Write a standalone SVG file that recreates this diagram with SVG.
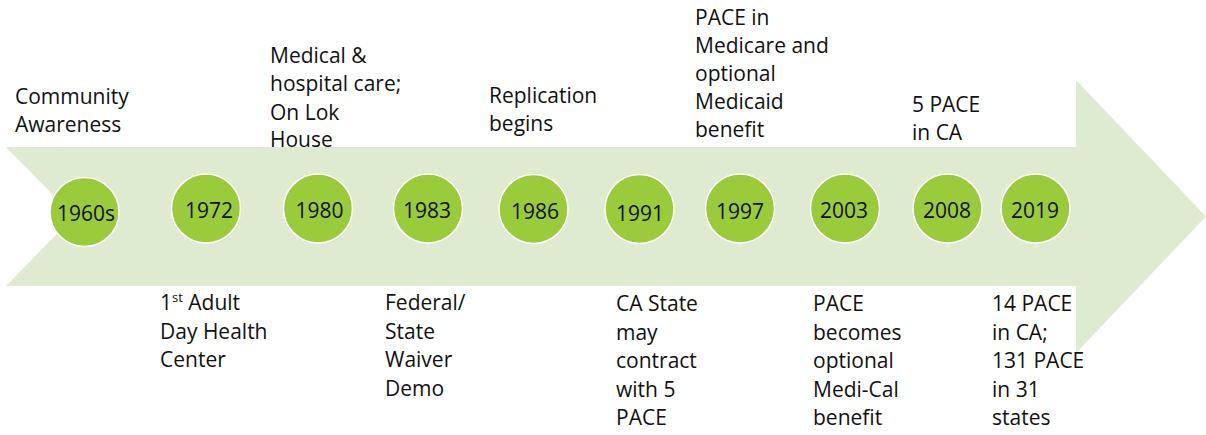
<svg xmlns="http://www.w3.org/2000/svg" width="1206" height="435" viewBox="0 0 1206 435">
  <style>
    .lbl { font-family: "Open Sans", "Liberation Sans", sans-serif; font-size: 21px; fill: #111111; }
    .yr { font-family: "Open Sans", "Liberation Sans", sans-serif; font-size: 21px; fill: #111111; text-anchor: middle; }
    .dot { fill: #9ACB3A; stroke: #ffffff; stroke-width: 1.5; }
    .sup { font-size: 13px; }
  </style>
  <rect width="1206" height="435" fill="#ffffff"/>
  <g id="connectors">
    <polygon id="timeline-arrow" points="6,147 1076,147 1076,80 1206,216.5 1076,353 1076,286 6,286 74,216.5" fill="#DFEBD1"/>
  </g>
  <g id="node-1960s">
    <circle class="dot" cx="84.5" cy="212" r="34.5"/>
    <text class="yr" x="86" y="220.5">1960s</text>
    <text class="lbl" x="15" y="104">Community</text>
    <text class="lbl" x="15" y="132">Awareness</text>
  </g>
  <g id="node-1972">
    <circle class="dot" cx="206" cy="208.5" r="34.5"/>
    <text class="yr" x="209" y="218">1972</text>
    <text class="lbl" x="160" y="310">1<tspan class="sup" dy="-8">st</tspan><tspan dy="8"> Adult</tspan></text>
    <text class="lbl" x="160" y="338.5">Day Health</text>
    <text class="lbl" x="160" y="367">Center</text>
  </g>
  <g id="node-1980">
    <circle class="dot" cx="318" cy="208.5" r="34.5"/>
    <text class="yr" x="319.5" y="218">1980</text>
    <text class="lbl" x="270" y="62.5">Medical &amp;</text>
    <text class="lbl" x="270" y="91">hospital care;</text>
    <text class="lbl" x="270" y="119.5">On Lok</text>
    <text class="lbl" x="270" y="147">House</text>
  </g>
  <g id="node-1983">
    <circle class="dot" cx="428" cy="208.5" r="34.5"/>
    <text class="yr" x="427" y="218">1983</text>
    <text class="lbl" x="385" y="310">Federal/</text>
    <text class="lbl" x="385" y="338.5">State</text>
    <text class="lbl" x="385" y="367">Waiver</text>
    <text class="lbl" x="385" y="395.5">Demo</text>
  </g>
  <g id="node-1986">
    <circle class="dot" cx="533.5" cy="209" r="34.5"/>
    <text class="yr" x="535" y="219">1986</text>
    <text class="lbl" x="489" y="103">Replication</text>
    <text class="lbl" x="489" y="131">begins</text>
  </g>
  <g id="node-1991">
    <circle class="dot" cx="639.5" cy="209" r="34.5"/>
    <text class="yr" x="640" y="220.5">1991</text>
    <text class="lbl" x="616" y="311">CA State</text>
    <text class="lbl" x="616" y="339.5">may</text>
    <text class="lbl" x="616" y="368">contract</text>
    <text class="lbl" x="616" y="396.5">with 5</text>
    <text class="lbl" x="616" y="425">PACE</text>
  </g>
  <g id="node-1997">
    <circle class="dot" cx="740" cy="208.5" r="34.5"/>
    <text class="yr" x="740" y="219">1997</text>
    <text class="lbl" x="695" y="25">PACE in</text>
    <text class="lbl" x="695" y="53">Medicare and</text>
    <text class="lbl" x="695" y="81">optional</text>
    <text class="lbl" x="695" y="109">Medicaid</text>
    <text class="lbl" x="695" y="137">benefit</text>
  </g>
  <g id="node-2003">
    <circle class="dot" cx="845" cy="208.5" r="34.5"/>
    <text class="yr" x="844" y="217.5">2003</text>
    <text class="lbl" x="813" y="311">PACE</text>
    <text class="lbl" x="813" y="339.5">becomes</text>
    <text class="lbl" x="813" y="368">optional</text>
    <text class="lbl" x="813" y="396.5">Medi-Cal</text>
    <text class="lbl" x="813" y="425">benefit</text>
  </g>
  <g id="node-2008">
    <circle class="dot" cx="947.5" cy="208.5" r="34.5"/>
    <text class="yr" x="947" y="218">2008</text>
    <text class="lbl" x="912" y="112">5 PACE</text>
    <text class="lbl" x="912" y="140">in CA</text>
  </g>
  <g id="node-2019">
    <circle class="dot" cx="1035.5" cy="208.5" r="34.5"/>
    <text class="yr" x="1035" y="217.5">2019</text>
    <text class="lbl" x="992" y="311">14 PACE</text>
    <text class="lbl" x="992" y="339.5">in CA;</text>
    <text class="lbl" x="992" y="368">131 PACE</text>
    <text class="lbl" x="992" y="396.5">in 31</text>
    <text class="lbl" x="992" y="425">states</text>
  </g>
</svg>
